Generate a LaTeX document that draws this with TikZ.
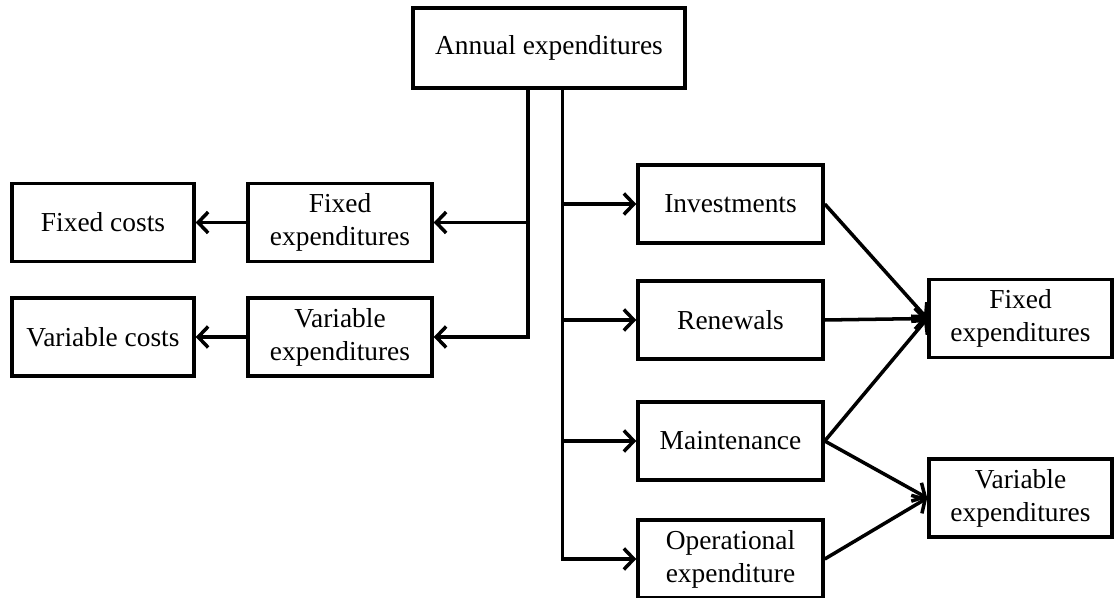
\documentclass[tikz,border=0pt]{standalone}
\usepackage{fontspec}
\setmainfont{Liberation Serif}
\usetikzlibrary{arrows.meta}

\begin{document}
\begin{tikzpicture}[font=\fontsize{15.6}{18.8}\selectfont]
	\tikzstyle{boxStyle} = [draw, line width = 2pt, align = center, inner sep = 0pt, minimum width = 3.68cm, minimum height = 1.56cm]
	\tikzstyle{arrowStyle} = [line width = 2pt, -{Straight Barb[length = 2mm, width = 4.2mm]}]
	\useasboundingbox (0, 0) rectangle (22.34, -11.96);
	\node[boxStyle, minimum width = 5.44cm, minimum height = 1.6cm] (annual) at (10.98, -0.96) {Annual expenditures};
	\node[boxStyle, minimum width = 3.64cm] (fixCost) at (2.06, -4.45) {Fixed costs};
	\node[boxStyle, minimum width = 3.64cm] (varCost) at (2.06, -6.74) {Variable costs};
	\node[boxStyle] (fixExpL) at (6.80, -4.45) {Fixed\\expenditures};
	\node[boxStyle] (varExpL) at (6.80, -6.74) {Variable\\expenditures};
	\node[boxStyle, minimum width = 3.70cm] (invest) at (14.61, -4.08) {Investments};
	\node[boxStyle, minimum width = 3.70cm] (renew) at (14.61, -6.40) {Renewals};
	\node[boxStyle, minimum width = 3.70cm] (maint) at (14.61, -8.82) {Maintenance};
	\node[boxStyle, minimum width = 3.70cm] (operat) at (14.61, -11.18) {Operational\\expenditure};
	\node[boxStyle, minimum width = 3.66cm] (fixExpR) at (20.41, -6.37) {Fixed\\expenditures};
	\node[boxStyle, minimum width = 3.66cm] (varExpR) at (20.41, -9.96) {Variable\\expenditures};
	\coordinate (leftTrunk) at (10.56, 0);
	\coordinate (rightTrunk) at (11.25, 0);
	\draw[arrowStyle] (annual.south -| leftTrunk) |- (fixExpL.east);
	\draw[arrowStyle] (annual.south -| leftTrunk) |- (varExpL.east);
	\draw[arrowStyle] (fixExpL) -- (fixCost);
	\draw[arrowStyle] (varExpL) -- (varCost);
	\draw[arrowStyle] (annual.south -| rightTrunk) |- (invest.west);
	\draw[arrowStyle] (annual.south -| rightTrunk) |- (renew.west);
	\draw[arrowStyle] (annual.south -| rightTrunk) |- (maint.west);
	\draw[arrowStyle] (annual.south -| rightTrunk) |- (operat.west);
	\draw[arrowStyle] (invest.east) -- (fixExpR.west);
	\draw[arrowStyle] (renew.east) -- (fixExpR.west);
	\draw[arrowStyle] (maint.east) -- (fixExpR.west);
	\draw[arrowStyle] (maint.east) -- (varExpR.west);
	\draw[arrowStyle] (operat.east) -- (varExpR.west);
\end{tikzpicture}
\end{document}
